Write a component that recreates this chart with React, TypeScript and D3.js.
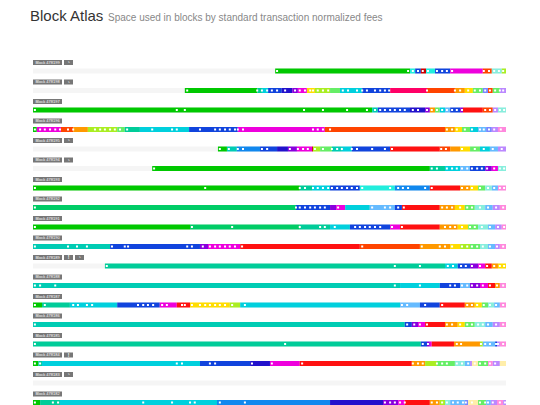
import React from "react";
import * as d3 from "d3";

// ---------- data ----------
const blockHeights = [478199, 478198, 478197, 478196, 478195, 478194, 478193, 478192, 478191, 478190, 478189, 478188, 478187, 478186, 478185, 478184, 478183, 478182];
// unused block space (kB of 1000) before the first transaction
const blockEmptyKB = [512, 321, 0, 0, 391, 252, 0, 0, 0, 0, 152, 0, 0, 0, 0, 0, 1000, 0];
// status badges per block
const blockBadges = [["clock"], ["clock"], [], [], ["clock"], ["clock"], [], [], [], [], ["warn", "clock"], [], [], [], [], ["warn"], ["clock"], []];

// fee bands (index 1..25) -> colour
const feeBands = d3.range(1, 26);
const feeBandColors = ["#00c800", "#00cc66", "#00cc99", "#00ccb4", "#00d0dd", "#22eedd", "#1188ee", "#1144dd", "#2211cc", "#8800dd", "#ee00dd", "#ff0066", "#ff1111", "#cc0000", "#ff4400", "#ff9900", "#ffdd00", "#aaee22", "#66ee66", "#88eedd", "#66bbff", "#7788ff", "#bb88ff", "#ff88dd", "#ffeeaa"];

// runs: [end position kB, fee band]
const runs478199 = [[797, 1], [808, 6], [820, 8], [831, 14], [850, 6], [882, 8], [951, 11], [970, 15], [991, 20], [1000, 18]];
const runs478198 = [[474, 1], [484, 3], [497, 5], [526, 8], [548, 9], [560, 10], [579, 11], [596, 17], [628, 18], [649, 19], [696, 5], [755, 8], [833, 12], [892, 15], [913, 16], [930, 17], [951, 19], [962, 22], [972, 15], [987, 19], [1000, 23]];
const runs478197 = [[717, 1], [729, 4], [797, 8], [829, 9], [839, 10], [850, 16], [860, 19], [871, 5], [882, 21], [903, 8], [909, 10], [951, 13], [972, 15], [983, 23], [1000, 20]];
const runs478196 = [[8, 1], [59, 11], [85, 15], [116, 16], [178, 18], [194, 19], [226, 3], [330, 5], [433, 8], [617, 11], [871, 15], [892, 16], [907, 17], [924, 19], [941, 5], [958, 21], [970, 22], [983, 23], [1000, 24]];
const runs478195 = [[410, 1], [431, 4], [480, 7], [516, 8], [539, 9], [558, 10], [590, 11], [592, 14], [607, 18], [632, 19], [653, 4], [674, 5], [755, 8], [860, 13], [882, 15], [903, 16], [924, 17], [945, 19], [966, 5], [983, 21], [1000, 23]];
const runs478194 = [[839, 1], [871, 3], [903, 5], [924, 21], [956, 8], [970, 10], [983, 11], [1000, 20]];
const runs478193 = [[564, 1], [590, 3], [628, 5], [691, 8], [765, 6], [839, 7], [903, 13], [924, 16], [941, 17], [956, 19], [970, 20], [983, 21], [1000, 24]];
const runs478192 = [[556, 2], [628, 8], [641, 10], [660, 11], [712, 5], [765, 21], [780, 8], [860, 13], [892, 16], [913, 17], [934, 19], [956, 20], [972, 21], [987, 23], [1000, 24]];
const runs478191 = [[332, 1], [564, 2], [628, 3], [670, 5], [755, 8], [776, 11], [860, 13], [898, 16], [920, 17], [941, 19], [962, 20], [977, 21], [991, 23], [1000, 24]];
const runs478190 = [[163, 4], [353, 8], [370, 10], [438, 11], [691, 13], [818, 15], [882, 16], [903, 17], [924, 18], [945, 19], [962, 20], [977, 21], [987, 23], [1000, 24]];
const runs478189 = [[871, 3], [898, 5], [924, 8], [941, 10], [956, 11], [970, 13], [983, 16], [1000, 17]];
const runs478188 = [[776, 4], [860, 5], [903, 8], [924, 21], [945, 10], [962, 11], [977, 13], [987, 16], [1000, 24]];
const runs478187 = [[19, 1], [78, 3], [178, 5], [268, 8], [304, 11], [332, 13], [416, 17], [438, 18], [776, 5], [818, 21], [860, 8], [913, 13], [934, 16], [949, 17], [962, 19], [975, 20], [987, 21], [1000, 24]];
const runs478186 = [[786, 4], [801, 8], [814, 10], [829, 11], [871, 13], [898, 16], [913, 17], [934, 19], [956, 20], [972, 21], [987, 23], [1000, 24]];
const runs478185 = [[820, 3], [833, 8], [839, 10], [843, 11], [890, 13], [945, 16], [951, 18], [977, 21], [981, 8], [987, 23], [1000, 24]];
const runs478184 = [[11, 1], [19, 3], [353, 5], [459, 8], [501, 9], [564, 11], [801, 13], [829, 16], [854, 18], [892, 19], [913, 20], [924, 21], [928, 23], [941, 25], [962, 19], [972, 24], [987, 23], [1000, 25]];
const runs478183: number[][] = [];
const runs478182 = [[15, 1], [57, 3], [389, 5], [628, 7], [740, 9], [772, 10], [786, 11], [839, 13], [860, 16], [871, 18], [882, 20], [913, 21], [920, 22], [941, 25], [958, 19], [968, 21], [981, 23], [994, 24], [1000, 23]];

// transaction markers (kB position)
const dots478199 = [516, 793, 803, 814, 824, 835, 854, 865, 875, 886, 953, 964, 975, 985, 994];
const dots478198 = [326, 474, 484, 495, 505, 516, 533, 554, 564, 575, 586, 592, 602, 613, 624, 655, 666, 685, 696, 706, 723, 734, 744, 753, 833, 892, 903, 920, 934, 945, 956, 966, 977, 987, 994];
const dots478197 = [4, 304, 321, 573, 613, 664, 706, 723, 734, 744, 755, 765, 776, 786, 803, 814, 833, 843, 854, 865, 875, 886, 896, 907, 956, 966, 977, 987, 996];
const dots478196 = [4, 15, 25, 36, 47, 57, 74, 85, 131, 142, 152, 163, 173, 184, 199, 252, 294, 304, 353, 385, 395, 406, 416, 427, 433, 444, 592, 602, 613, 628, 875, 886, 896, 913, 928, 945, 953, 964, 975, 989];
const dots478195 = [395, 414, 433, 444, 484, 495, 543, 560, 571, 581, 596, 613, 632, 643, 653, 674, 685, 717, 744, 759, 863, 873, 907, 934, 953, 972, 991];
const dots478194 = [256, 843, 854, 875, 886, 896, 907, 918, 928, 939, 949, 960, 975, 987, 996];
const dots478193 = [4, 364, 564, 575, 592, 602, 613, 624, 632, 643, 653, 664, 674, 685, 696, 755, 772, 782, 793, 829, 843, 907, 918, 928, 945, 962, 975, 987, 996];
const dots478192 = [4, 556, 564, 575, 586, 596, 607, 617, 645, 717, 744, 755, 772, 784, 865, 875, 886, 903, 918, 928, 945, 962, 979, 994];
const dots478191 = [4, 336, 421, 564, 607, 617, 638, 681, 691, 702, 712, 723, 734, 759, 780, 871, 882, 892, 907, 924, 934, 949, 966, 983, 996];
const dots478190 = [4, 74, 93, 114, 167, 194, 201, 326, 336, 359, 374, 385, 395, 406, 416, 427, 442, 696, 822, 860, 871, 886, 907, 918, 928, 939, 951, 966, 981, 994];
const dots478189 = [156, 765, 818, 877, 888, 905, 915, 928, 945, 960, 975, 987, 996];
const dots478188 = [4, 15, 47, 765, 818, 882, 892, 907, 918, 928, 939, 951, 966, 981, 994];
const dots478187 = [4, 25, 85, 95, 114, 125, 222, 233, 243, 254, 273, 283, 315, 321, 336, 353, 364, 374, 385, 395, 406, 421, 448, 780, 791, 829, 865, 918, 928, 939, 953, 966, 979, 994];
const dots478186 = [4, 791, 806, 818, 833, 875, 886, 903, 918, 928, 941, 951, 962, 979, 994];
const dots478185 = [4, 533, 824, 835, 896, 905, 947, 956, 966, 979, 983, 994];
const dots478184 = [4, 15, 304, 315, 374, 385, 463, 505, 569, 803, 814, 824, 854, 865, 875, 896, 907, 920, 934, 945, 956, 966, 977];
const dots478183: number[] = [];
const dots478182 = [4, 42, 53, 233, 294, 332, 342, 395, 448, 744, 755, 765, 776, 786, 843, 854, 865, 875, 888, 898, 909, 915, 928, 945, 956, 962, 972, 987, 998];

const blockRuns = [runs478199, runs478198, runs478197, runs478196, runs478195, runs478194, runs478193, runs478192, runs478191, runs478190, runs478189, runs478188, runs478187, runs478186, runs478185, runs478184, runs478183, runs478182];
const blockDots = [dots478199, dots478198, dots478197, dots478196, dots478195, dots478194, dots478193, dots478192, dots478191, dots478190, dots478189, dots478188, dots478187, dots478186, dots478185, dots478184, dots478183, dots478182];

const badgeGlyph: Record<string, string> = { clock: "\u25D4", warn: "!" };

// ---------- chart ----------
export default function App() {
  const W = 540, H = 405;
  const x = d3.scaleLinear().domain([0, 1000]).range([33, 506]);
  const rowY = d3.scaleLinear().domain([0, blockHeights.length - 1]).range([60, 391.5]);
  const color = d3.scaleOrdinal<number, string>().domain(feeBands).range(feeBandColors);
  const font = "'Liberation Sans', Arial, Helvetica, sans-serif";
  const labelW = 29, badgeW = 9, gap = 2, labelH = 5, barOff = 8.5, barH = 5;

  return (
    <svg width={W} height={H} style={{ position: "absolute", left: 0, top: 0, background: "#fff" }} fontFamily={font}>
      <text x={30} y={21} fontSize={15} fill="#333">Block Atlas</text>
      <text x={108} y={21} fontSize={10} fill="#888">Space used in blocks by standard transaction normalized fees</text>
      {blockHeights.map((h, i) => {
        const y0 = rowY(i);
        const by = y0 + barOff;
        const runs = blockRuns[i];
        let start = blockEmptyKB[i];
        const rects = runs.map((r, j) => {
          const s = start;
          start = r[0];
          return <rect key={j} x={x(s)} y={by} width={Math.max(0, x(r[0]) - x(s))} height={barH} fill={color(r[1])} />;
        });
        return (
          <g key={h}>
            <rect x={33} y={y0} width={labelW} height={labelH} fill="#777" />
            <text x={33 + labelW / 2} y={y0 + 3.9} fontSize={4} fill="#fff" textAnchor="middle">{`Block ${h}`}</text>
            {blockBadges[i].map((b, k) => {
              const bx = 33 + labelW + gap + k * (badgeW + gap);
              return (
                <g key={k}>
                  <rect x={bx} y={y0} width={badgeW} height={labelH} fill="#777" />
                  <text x={bx + badgeW / 2} y={y0 + 4.2} fontSize={5} fontWeight="bold" fill="#fff" textAnchor="middle">{badgeGlyph[b]}</text>
                </g>
              );
            })}
            <rect x={x(0)} y={by} width={x(1000) - x(0)} height={barH} fill="#f5f5f5" />
            {rects}
            {blockDots[i].map((p, k) => (
              <rect key={"d" + k} x={x(p) - 1} y={by + 1.5} width={2} height={2} fill="#fff" />
            ))}
          </g>
        );
      })}
    </svg>
  );
}
